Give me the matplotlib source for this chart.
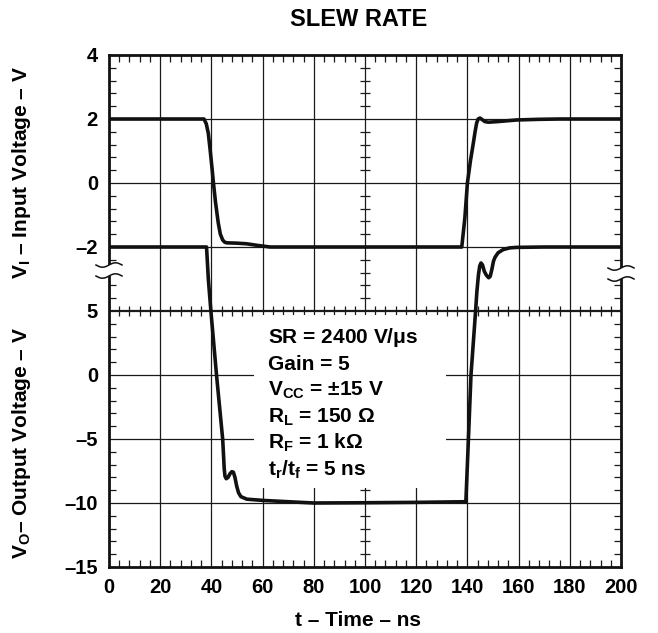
import numpy as np
import matplotlib
matplotlib.use("Agg")
import matplotlib.pyplot as plt
from matplotlib.patches import Rectangle
from matplotlib.ticker import MultipleLocator, FixedLocator

plt.rcParams['font.family'] = ['Liberation Sans', 'DejaVu Sans']
plt.rcParams['font.weight'] = 'bold'
plt.rcParams['mathtext.fontset'] = 'custom'
plt.rcParams['mathtext.rm'] = 'Liberation Sans:bold'
plt.rcParams['mathtext.it'] = 'Liberation Sans:bold'
plt.rcParams['mathtext.bf'] = 'Liberation Sans:bold'
plt.rcParams['mathtext.default'] = 'bf'

# ---- data ----
t_in = [0, 37.1, 38.0, 38.8, 39.5, 40.2, 40.8, 41.6, 42.7, 43.5, 44.4, 45.2, 46.0, 50.0,
        53.8, 58.0, 62.9, 100, 137.8, 139.0, 140.0, 141.2, 142.3, 143.0, 143.6, 144.2,
        144.9, 145.8, 146.8, 148.2, 152.0, 159.3, 168.0, 176.0, 200]
v_in = [2.0, 2.0, 1.85, 1.55, 1.04, 0.5, 0.0, -0.6, -1.26, -1.6, -1.78, -1.85, -1.87, -1.88,
        -1.9, -1.95, -2.0, -2.0, -2.0, -1.1, 0.0, 0.7, 1.24, 1.6, 1.87, 2.0,
        2.03, 1.98, 1.92, 1.9, 1.92, 1.97, 1.99, 2.0, 2.0]

t_out = [0, 38.1, 38.8, 39.8, 42.0, 44.4, 44.8, 45.0, 45.3, 45.8, 46.5, 47.3, 48.0, 48.6,
         49.2, 49.9, 50.6, 51.5, 53.8, 60.3, 70, 80, 100, 120, 139.4, 140.4, 141.4, 143.2,
         143.7, 144.3, 144.8, 145.3, 145.9, 146.6, 147.4, 148.3, 148.9, 149.5, 150.2, 150.8,
         152.0, 154.0, 156.5, 159.2, 170, 200]
v_out = [10, 10, 7.5, 5, 0, -5, -6.5, -7.3, -7.9, -8.1, -8.0, -7.7, -7.55, -7.6,
         -8.0, -8.7, -9.2, -9.5, -9.7, -9.8, -9.9, -10.0, -9.98, -9.95, -9.9, -5, 0, 5,
         6.5, 7.8, 8.5, 8.75, 8.6, 8.1, 7.8, 7.6, 7.7, 8.2, 8.9, 9.2,
         9.55, 9.8, 9.93, 9.97, 10, 10]

x_ticks = [0, 20, 40, 60, 80, 100, 120, 140, 160, 180, 200]
in_ticks = [4, 2, 0, -2]
out_ticks = [5, 0, -5, -10, -15]

notes = [r'SR = 2400 V/$\mathrm{\mu}$s', 'Gain = 5', r'V$_{\mathrm{CC}}$ = ±15 V',
         r'R$_{\mathrm{L}}$ = 150 Ω', r'R$_{\mathrm{F}}$ = 1 kΩ', r't$_{\mathrm{r}}$/t$_{\mathrm{f}}$ = 5 ns']

# the input panel is stacked above the output scale: V_I=-4..4 maps onto 5..25
def in_map(v):
    return 15 + 2.5 * np.asarray(v, dtype=float)

W, H = 658, 633
fig = plt.figure(figsize=(W / 100, H / 100), dpi=100)
ax = fig.add_axes([109 / W, 1 - 567 / H, 512 / W, 512 / H])
ax.set_xlim(0, 200)
ax.set_ylim(-15, 25)

# grid
for x in x_ticks[1:-1]:
    ax.axvline(x, color='#1a1a1a', lw=0.9, zorder=1)
for y in [-10, -5, 0, 10, 15, 20]:
    ax.axhline(y, color='#1a1a1a', lw=0.9, zorder=1)
ax.axhline(5, color='#1a1a1a', lw=1.6, zorder=1)

# cross ticks on the central lines
ymin_t = [y for y in np.arange(-15, 25.01, 1.0) if y % 5 != 0]
xmin_t = [x for x in np.arange(0, 200.01, 4.0) if x % 20 != 0]
ax.plot([100] * len(ymin_t), ymin_t, ls='none', marker='_', ms=6.5, mew=0.9,
        color='#1a1a1a', zorder=1.5)
ax.plot(xmin_t, [5] * len(xmin_t), ls='none', marker='|', ms=6.5, mew=0.9,
        color='#1a1a1a', zorder=1.5)

# conditions box
ax.add_patch(Rectangle((56.6, -8.83), 75.0, 13.5, facecolor='white', edgecolor='none', zorder=2.5))

# traces
ax.plot(t_in, in_map(v_in), color='#111111', lw=2.6, zorder=4,
        solid_joinstyle='round', solid_capstyle='round')
ax.plot(t_out, v_out, color='#111111', lw=2.6, zorder=4,
        solid_joinstyle='round', solid_capstyle='round')

# text
def px2y(py):
    return 25 - (py - 55) / 12.8
baselines = [343, 369.5, 396, 422.5, 449, 475.5]
for s, b in zip(notes, baselines):
    ax.text(62.1, px2y(b), s, fontsize=15, fontweight='bold', va='baseline', ha='left', zorder=5)

# ticks
ax.xaxis.set_major_locator(FixedLocator(x_ticks))
ax.set_xticklabels([str(v) for v in x_ticks])
ax.xaxis.set_minor_locator(MultipleLocator(4))
ypos = list(in_map(in_ticks)) + out_ticks
ylab = [str(v).replace('-', '–') for v in in_ticks] + [str(v).replace('-', '–') for v in out_ticks]
ax.yaxis.set_major_locator(FixedLocator(ypos))
ax.set_yticklabels(ylab)
ax.yaxis.set_minor_locator(MultipleLocator(1))
ax.tick_params(which='both', direction='in', top=True, right=True, color='#1a1a1a')
ax.tick_params(which='major', length=0, labelsize=14.5, pad=8)
ax.tick_params(which='minor', length=5, width=0.9)
for lab in ax.get_xticklabels() + ax.get_yticklabels():
    lab.set_fontweight('bold')
for sp in ax.spines.values():
    sp.set_linewidth(2.0)
    sp.set_color('#111111')

# axis break marks
def brk(xc, y1, y2):
    tr = ax.transAxes
    ax.add_patch(Rectangle((xc - 8 / 512, y2), 16 / 512, y1 - y2, transform=tr,
                           facecolor='white', edgecolor='none', clip_on=False, zorder=6))
    s = np.linspace(0, 1, 40)
    for yy in (y1, y2):
        ax.plot(xc + (s - 0.5) * 26 / 512, yy + 2.2 / 512 * np.sin(2 * np.pi * s + np.pi),
                transform=tr, color='#111111', lw=1.1, clip_on=False, zorder=7)

brk(0.0, (567 - 265) / 512, (567 - 276) / 512)
brk(1.0, (567 - 268) / 512, (567 - 279) / 512)

# labels
fig.text(359 / W, 1 - 20 / H, 'SLEW RATE', ha='center', va='center', fontsize=17, fontweight='bold')
fig.text(358 / W, 1 - 620 / H, 't – Time – ns', ha='center', va='center', fontsize=15, fontweight='bold')
fig.text(22 / W, 1 - 172 / H, r'V$_{\mathrm{I}}$ – Input Voltage – V', rotation=90,
         ha='center', va='center', fontsize=15, fontweight='bold')
fig.text(22 / W, 1 - 443 / H, r'V$_{\mathrm{O}}$– Output Voltage – V', rotation=90,
         ha='center', va='center', fontsize=15, fontweight='bold')

fig.savefig('out.png', dpi=100)
